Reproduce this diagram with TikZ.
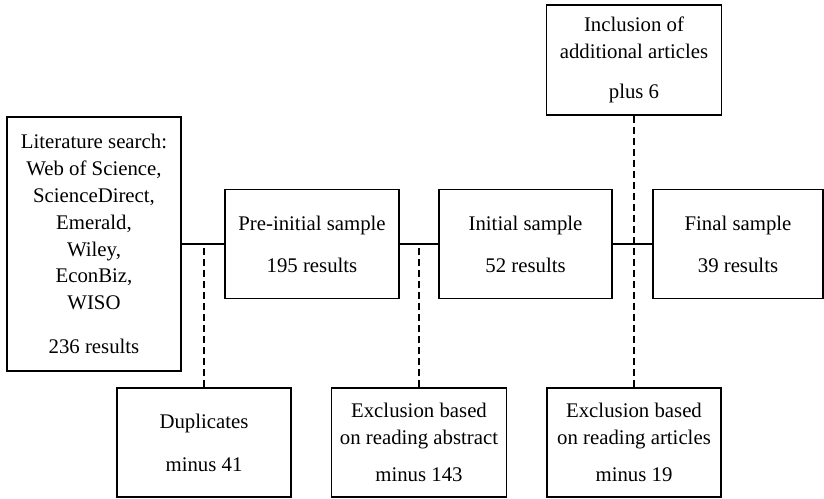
\documentclass[tikz,border=0pt]{standalone}
\usepackage{fontspec}
\setmainfont{Liberation Serif}
\begin{document}
\begin{tikzpicture}[x=1pt,y=1pt,
  box/.style={draw=black, line width=1.2pt, inner sep=0pt, align=center,
    minimum width=174pt, minimum height=109pt,
    font=\fontsize{20.8}{26.8}\selectfont},
  conn/.style={draw=black, line width=1.2pt},
  dconn/.style={draw=black, line width=1.5pt, dash pattern=on 7pt off 4pt}]
\useasboundingbox (0,0) rectangle (824,498);
\node[box, minimum height=254pt] (lit) at (94,254)
  {Literature search:\\Web of Science,\\ScienceDirect,\\Emerald,\\Wiley,\\EconBiz,\\WISO\\[17pt]236 results};
\node[box] (pre) at (312,254) {Pre-initial sample\\[15pt]195 results};
\node[box, minimum width=173pt] (init) at (525.5,254) {Initial sample\\[15pt]52 results};
\node[box, minimum width=170pt] (final) at (738,254) {Final sample\\[15pt]39 results};
\node[box, minimum width=175pt, minimum height=110pt] (incl) at (634,438)
  {Inclusion of\\additional articles\\[13pt]plus 6};
\node[box] (dup) at (204,55.5) {Duplicates\\[16pt]minus 41};
\node[box, minimum width=175pt] (abs) at (419,55.5)
  {Exclusion based\\on reading abstract\\[11pt]minus 143};
\node[box] (art) at (634,55.5)
  {Exclusion based\\on reading articles\\[11pt]minus 19};
\draw[conn] (lit.east) -- (pre.west);
\draw[conn] (pre.east) -- (init.west);
\draw[conn] (init.east) -- (final.west);
\draw[dconn] (dup.north) -- (dup.north |- lit.east);
\draw[dconn] (abs.north) -- (abs.north |- pre.east);
\draw[dconn] (incl.south) -- (art.north);
\end{tikzpicture}
\end{document}
